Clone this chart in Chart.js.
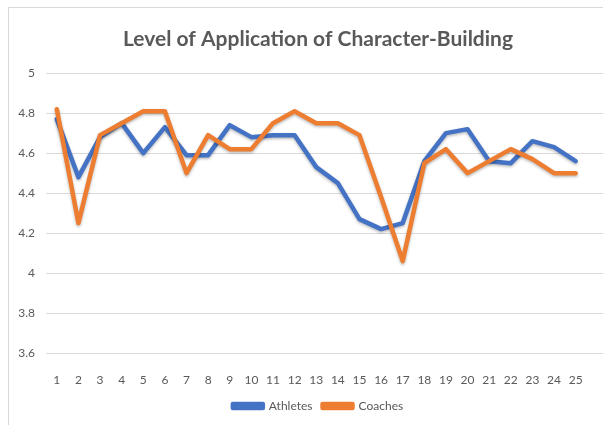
<!DOCTYPE html>
<html>
<head>
<meta charset="utf-8">
<script src="https://cdn.jsdelivr.net/npm/chart.js@4/dist/chart.umd.min.js"></script>
<style>
  html, body { margin: 0; padding: 0; background: #fff; overflow: hidden; }
  #frame { position: absolute; left: 8px; top: 7px; width: 700px; height: 500px; border: 1px solid #d9d9d9; }
  #wrap { position: absolute; left: 0; top: 0; width: 636px; height: 425px; }
</style>
</head>
<body>
<div id="frame"></div>
<div id="wrap"><canvas id="chart" width="636" height="425"></canvas></div>
<script>
const categories = [1,2,3,4,5,6,7,8,9,10,11,12,13,14,15,16,17,18,19,20,21,22,23,24,25];
const athletes = [4.77,4.48,4.68,4.75,4.60,4.73,4.59,4.59,4.74,4.68,4.69,4.69,4.53,4.45,4.27,4.22,4.25,4.56,4.70,4.72,4.56,4.55,4.66,4.63,4.56];
const coaches  = [4.82,4.25,4.69,4.75,4.81,4.81,4.50,4.69,4.62,4.62,4.75,4.81,4.75,4.75,4.69,4.38,4.06,4.55,4.62,4.50,4.56,4.62,4.57,4.50,4.50];
const yTicks = [3.6,3.8,4,4.2,4.4,4.6,4.8,5];

const GREY = '#595959';
const FONT = 'Lato, "Open Sans", sans-serif';

// soft shadow under the lines, like the office chart
const lineShadow = {
    id: 'lineShadow',
    beforeDatasetsDraw(chart) {
        const ctx = chart.ctx;
        ctx.save();
        ctx.shadowColor = 'rgba(0,0,0,0.28)';
        ctx.shadowBlur = 3;
        ctx.shadowOffsetY = 1.5;
    },
    afterDatasetsDraw(chart) {
        chart.ctx.restore();
    }
};

const toPoints = (vals) => vals.map((v, i) => ({ x: categories[i], y: v }));

new Chart(document.getElementById('chart'), {
    type: 'line',
    data: {
        datasets: [
            { label: 'Athletes', data: toPoints(athletes), borderColor: '#4472C4', backgroundColor: '#4472C4', order: 1 },
            { label: 'Coaches', data: toPoints(coaches), borderColor: '#ED7D31', backgroundColor: '#ED7D31', order: 0 }
        ]
    },
    options: {
        responsive: false,
        animation: false,
        layout: { padding: { left: 0, right: 0, top: 0, bottom: 3 } },
        elements: {
            line: { borderWidth: 4.5, tension: 0, borderCapStyle: 'round', borderJoinStyle: 'round' },
            point: { radius: 0 }
        },
        plugins: {
            title: {
                display: true,
                text: 'Level of Application of Character-Building',
                color: GREY,
                font: { family: FONT, size: 21, weight: 'bold' },
                padding: { top: 27, bottom: 21 }
            },
            legend: {
                position: 'bottom',
                reverse: true,
                labels: { color: GREY, boxWidth: 30, boxHeight: 4, padding: 10, font: { family: FONT, size: 12 } }
            },
            tooltip: { enabled: false }
        },
        scales: {
            x: {
                type: 'linear',
                min: 0.5,
                max: 27.79,
                grid: { display: false },
                border: { display: false },
                afterBuildTicks: (scale) => { scale.ticks = categories.map(c => ({ value: c })); },
                afterFit: (scale) => { scale.height = 37; },
                ticks: { color: GREY, padding: 12, maxRotation: 0, autoSkip: false, font: { family: FONT, size: 12 } }
            },
            y: {
                min: 3.6,
                max: 5,
                afterBuildTicks: (scale) => { scale.ticks = yTicks.map(v => ({ value: v })); },
                afterFit: (scale) => { scale.width = 46; },
                grid: { color: '#d9d9d9', lineWidth: 1, drawTicks: false },
                border: { display: false },
                ticks: { color: GREY, padding: 11, font: { family: FONT, size: 12 }, callback: (v) => String(Number(v.toFixed(1))) }
            }
        }
    },
    plugins: [lineShadow]
});
</script>
</body>
</html>
